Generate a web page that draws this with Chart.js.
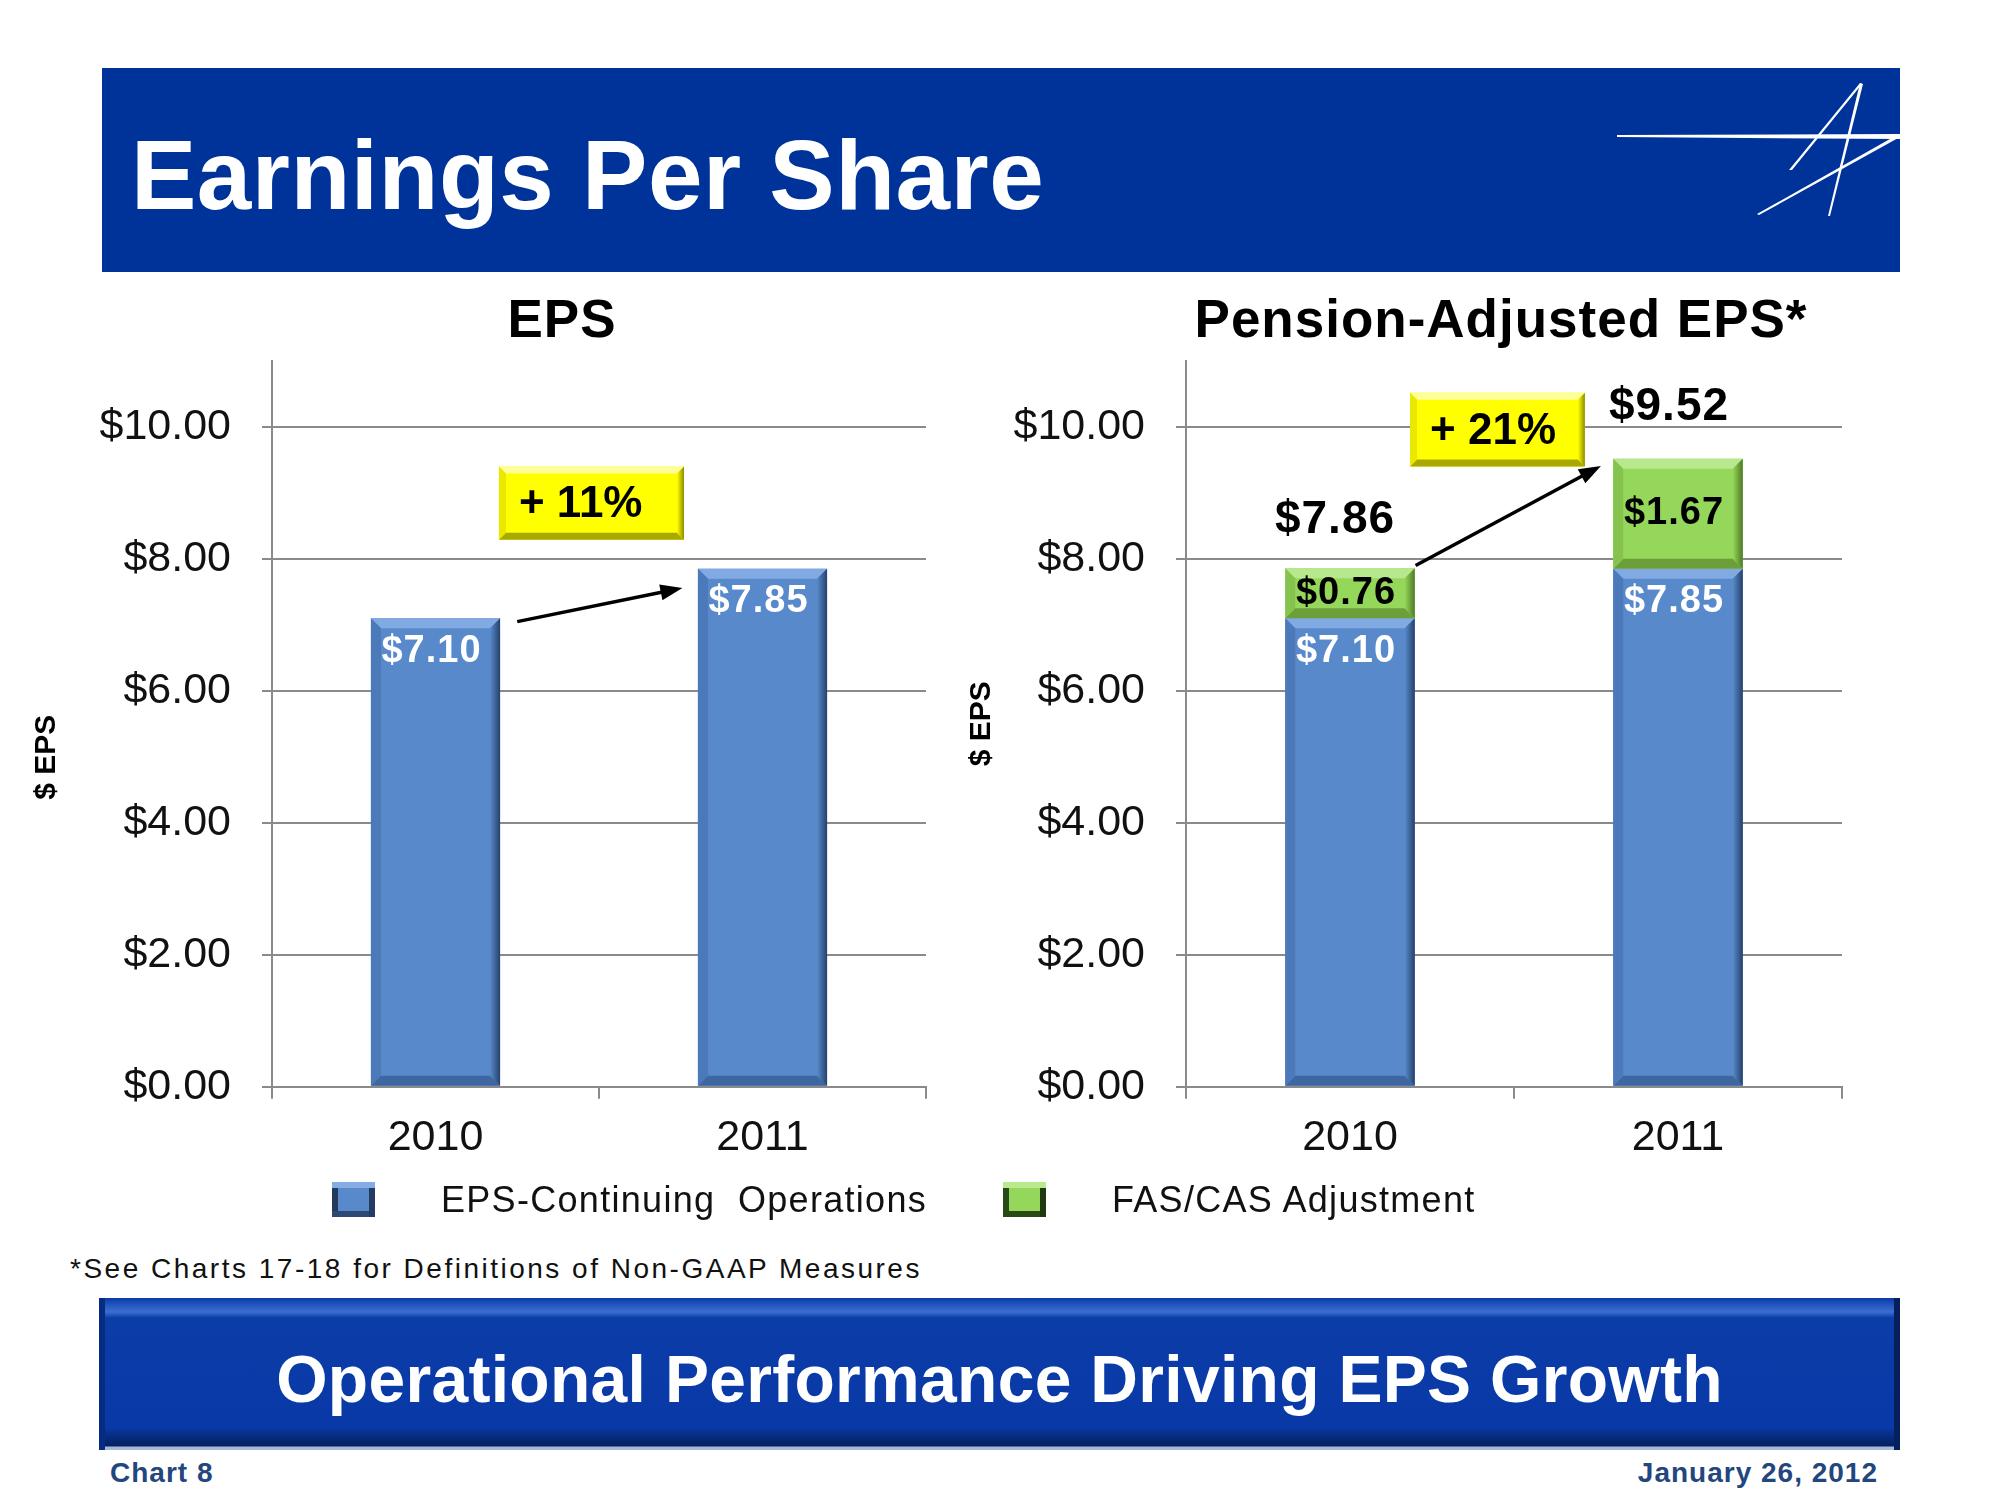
<!DOCTYPE html>
<html>
<head>
<meta charset="utf-8">
<title>Earnings Per Share</title>
<script src="https://cdn.jsdelivr.net/npm/chart.js@4.4.1/dist/chart.umd.min.js"></script>
<style>
    body { margin: 0; width: 2000px; height: 1500px; background: #fff; position: relative; overflow: hidden;
           font-family: "Liberation Sans", Arial, sans-serif; }
    .abs { position: absolute; }
    #header { left: 102px; top: 68px; width: 1798px; height: 204px; background: #003399; }
    #header h1 { position: absolute; left: 29px; top: 58px; margin: 0; color: #fff; font-size: 98px; line-height: 98px;
                 font-weight: bold; letter-spacing: 0.5px; white-space: nowrap; }
    #logo { position: absolute; left: 0; top: 0; }
    .legend-box { width: 43px; height: 35px; box-sizing: border-box; }
    #legBlue { left: 332px; top: 1182px; background: #588acb;
               box-shadow: inset 0 6px 0 #85ade2, inset -6px 0 0 #243c62, inset 0 -6px 0 #2d4a75, inset 6px 0 0 #23395c; }
    #legGreen { left: 1003px; top: 1182px; background: #95d75a;
                box-shadow: inset 0 6px 0 #b9e98f, inset -6px 0 0 #203a10, inset 0 -6px 0 #2a4a14, inset 6px 0 0 #2a4a14; }
    .legend-text { font-size: 36px; letter-spacing: 1.3px; color: #111; white-space: pre; line-height: 36px; }
    #footnote { left: 70px; top: 1253px; font-size: 28px; letter-spacing: 2.5px; color: #111; line-height: 32px; white-space: nowrap; }
    #footer { left: 99px; top: 1298px; width: 1801px; height: 152px; box-sizing: border-box;
              background: linear-gradient(#0a3aa8 0px, #2f62c8 10px, #3a6ed0 14px, #0b3ca8 20px, #0839a6 130px, #062c82 138px, #05215f 148px, #a7b8d8 149px, #a7b8d8 152px);
              box-shadow: inset 6px 0 0 #062c82, inset -6px 0 0 #04205c; }
    #footer div { position: absolute; left: 0; right: 0; top: 46px; text-align: center; color: #fff; font-size: 66px;
                  font-weight: bold; letter-spacing: 0.3px; line-height: 70px; white-space: nowrap; }
    .foot-small { top: 1456px; font-size: 28px; font-weight: bold; color: #24467e; letter-spacing: 1px; line-height: 34px; }
</style>
</head>
<body>
<div id="header" class="abs">
    <h1>Earnings Per Share</h1>
    <svg id="logo" width="1798" height="204" viewBox="102 68 1798 204">
        <polygon points="1617,135 1900,134 1900,139 1617,137" fill="#fff"/>
        <polygon points="1860,83 1862,84 1792,170 1789,170" fill="#fff"/>
        <polygon points="1860,83 1863,84 1830,216 1828,216" fill="#fff"/>
        <polygon points="1897,135 1900,137 1759,215 1757,214" fill="#fff"/>
    </svg>
</div>

<div class="abs" style="left:0;top:280px;width:960px;height:900px;"><canvas id="epsChart"></canvas></div>
<div class="abs" style="left:960px;top:280px;width:1000px;height:900px;"><canvas id="pensionChart"></canvas></div>

<div id="legBlue" class="abs legend-box"></div>
<div class="abs legend-text" style="left:441px;top:1182px;">EPS-Continuing  Operations</div>
<div id="legGreen" class="abs legend-box"></div>
<div class="abs legend-text" style="left:1112px;top:1182px;">FAS/CAS Adjustment</div>

<div id="footnote" class="abs">*See Charts 17-18 for Definitions of Non-GAAP Measures</div>

<div id="footer" class="abs"><div>Operational Performance Driving EPS Growth</div></div>
<div class="abs foot-small" style="left:110px;">Chart 8</div>
<div class="abs foot-small" style="right:122px;">January 26, 2012</div>

<script>
// Chart data
const years = ['2010', '2011'];
const epsContinuing = [7.10, 7.85];
const fasCasAdjustment = [0.76, 1.67];
const yTickValues = [0, 2, 4, 6, 8, 10];
const growthLabels = ['+ 11%', '+ 21%'];

const FONT = '"Liberation Sans", Arial, sans-serif';

const BLUE = { main: '#588acb', top: '#82aae2', bottom: '#3e67a2', left: '#4b79b9', right: '#26416b' };
const GREEN = { main: '#95d75a', top: '#b8e88e', bottom: '#6c9f3a', left: '#86c34e', right: '#4d7a24' };
const YELLOW = { main: '#ffff00', top: '#ffff99', bottom: '#a8a800', left: '#e8e800', right: '#8c8c00' };

function money(v) {
    return '$' + v.toFixed(2);
}

function poly(ctx, pts, color) {
    ctx.beginPath();
    ctx.moveTo(pts[0][0], pts[0][1]);
    for (let i = 1; i < pts.length; i++) ctx.lineTo(pts[i][0], pts[i][1]);
    ctx.closePath();
    ctx.fillStyle = color;
    ctx.fill();
}

// draws bevelled edges on a rectangle, like the old office 3d bars
function bevel(ctx, l, t, r, b, c, s) {
    poly(ctx, [[l, t], [r, t], [r - s, t + s], [l + s, t + s]], c.top);
    poly(ctx, [[l, b], [r, b], [r - s, b - s], [l + s, b - s]], c.bottom);
    poly(ctx, [[l, t], [l + s, t + s], [l + s, b - s], [l, b]], c.left);
    const g = ctx.createLinearGradient(r - s, 0, r, 0);
    g.addColorStop(0, c.main);
    g.addColorStop(1, c.right);
    poly(ctx, [[r, t], [r - s, t + s], [r - s, b - s], [r, b]], g);
}

const bevelPlugin = {
    id: 'bevelBars',
    afterDatasetsDraw(chart) {
        const ctx = chart.ctx;
        chart.getSortedVisibleDatasetMetas().forEach(meta => {
            const colors = chart.data.datasets[meta.index].bevel;
            meta.data.forEach(el => {
                const p = el.getProps(['x', 'y', 'base', 'width'], true);
                const l = p.x - p.width / 2, r = p.x + p.width / 2;
                const t = Math.min(p.y, p.base), b = Math.max(p.y, p.base);
                ctx.save();
                bevel(ctx, l, t, r, b, colors, 10);
                ctx.restore();
            });
        });
    }
};

const labelPlugin = {
    id: 'barLabels',
    afterDatasetsDraw(chart, args, opts) {
        const ctx = chart.ctx;
        ctx.save();
        ctx.textAlign = 'center';
        ctx.textBaseline = 'middle';
        ctx.letterSpacing = '1px';
        chart.getSortedVisibleDatasetMetas().forEach(meta => {
            const ds = chart.data.datasets[meta.index];
            meta.data.forEach((el, i) => {
                const p = el.getProps(['x', 'y', 'base'], true);
                const y = ds.labelMode === 'center' ? (p.y + p.base) / 2 : p.y + 33;
                ctx.font = 'bold 38px ' + FONT;
                ctx.fillStyle = ds.labelColor;
                ctx.fillText(money(ds.data[i]), p.x - 4, y);
            });
        });
        // totals on top of the stack
        if (opts.totals) {
            const metas = chart.getSortedVisibleDatasetMetas();
            const last = metas[metas.length - 1];
            last.data.forEach((el, i) => {
                let total = 0;
                chart.data.datasets.forEach(ds => { total += ds.data[i]; });
                ctx.font = 'bold 46px ' + FONT;
                ctx.fillStyle = '#000';
                ctx.fillText(money(total), el.x - 15 + i * 6, el.y - 48 + i * -3);
            });
        }
        ctx.restore();
    }
};

// growth callout box + arrow, placed in data units
const calloutPlugin = {
    id: 'callout',
    afterDraw(chart, args, opts) {
        const ctx = chart.ctx;
        const xs = chart.scales.x, ys = chart.scales.y;
        const px = v => xs.getPixelForValue(v);
        const py = v => ys.getPixelForValue(v);

        const l = px(opts.box[0]), r = px(opts.box[1]);
        const t = py(opts.box[2]), b = py(opts.box[3]);
        ctx.save();
        ctx.fillStyle = YELLOW.main;
        ctx.fillRect(l, t, r - l, b - t);
        bevel(ctx, l, t, r, b, YELLOW, 7);
        ctx.font = 'bold 44px ' + FONT;
        ctx.fillStyle = '#000';
        ctx.textAlign = 'left';
        ctx.textBaseline = 'middle';
        ctx.fillText(opts.text, l + 20, (t + b) / 2 + 2);

        const x0 = px(opts.arrow[0]), y0 = py(opts.arrow[1]);
        const x1 = px(opts.arrow[2]), y1 = py(opts.arrow[3]);
        const ang = Math.atan2(y1 - y0, x1 - x0);
        const head = 22;
        ctx.strokeStyle = '#000';
        ctx.lineWidth = 3.5;
        ctx.beginPath();
        ctx.moveTo(x0, y0);
        ctx.lineTo(x1 - head * 0.8 * Math.cos(ang), y1 - head * 0.8 * Math.sin(ang));
        ctx.stroke();
        ctx.beginPath();
        ctx.moveTo(x1, y1);
        ctx.lineTo(x1 - head * Math.cos(ang) + 8 * Math.sin(ang), y1 - head * Math.sin(ang) - 8 * Math.cos(ang));
        ctx.lineTo(x1 - head * Math.cos(ang) - 8 * Math.sin(ang), y1 - head * Math.sin(ang) + 8 * Math.cos(ang));
        ctx.closePath();
        ctx.fillStyle = '#000';
        ctx.fill();
        ctx.restore();
    }
};

const panelTitlePlugin = {
    id: 'panelTitle',
    afterDraw(chart, args, opts) {
        const ctx = chart.ctx;
        const area = chart.chartArea;
        ctx.save();
        ctx.font = 'bold 53px ' + FONT;
        ctx.letterSpacing = '1px';
        ctx.fillStyle = '#000';
        ctx.textAlign = 'center';
        ctx.textBaseline = 'middle';
        ctx.fillText(opts.text, (area.left + area.right) / 2 + opts.shift, opts.y);
        ctx.restore();
    }
};

function buildOptions(cfg) {
    return {
        responsive: true,
        maintainAspectRatio: false,
        animation: false,
        layout: { padding: cfg.padding },
        plugins: {
            legend: { display: false },
            title: { display: false },
            tooltip: { enabled: false },
            panelTitle: { text: cfg.title, shift: cfg.titleShift, y: 42 },
            barLabels: { totals: cfg.totals },
            callout: cfg.callout
        },
        scales: {
            x: {
                stacked: cfg.stacked,
                offset: true,
                afterFit: s => { s.height = 93.3; },
                grid: { offset: true, drawOnChartArea: false, color: '#8a8a8a', lineWidth: 2, tickLength: 12 },
                border: { color: '#8a8a8a', width: 2 },
                ticks: { color: '#111', padding: 14, font: { family: FONT, size: 43 } }
            },
            y: {
                stacked: cfg.stacked,
                min: 0,
                max: 11,
                afterFit: s => { s.width = cfg.yWidth; },
                afterBuildTicks: s => { s.ticks = yTickValues.map(v => ({ value: v })); },
                grid: { color: '#8a8a8a', lineWidth: 2, tickLength: 10 },
                border: { color: '#8a8a8a', width: 2 },
                ticks: {
                    color: '#111',
                    padding: 31,
                    font: { family: FONT, size: 43 },
                    callback: v => money(v)
                },
                title: {
                    display: true,
                    text: cfg.yTitle,
                    color: '#000',
                    padding: { top: 4, bottom: 4 },
                    font: { family: FONT, size: 30, weight: 'bold' }
                }
            }
        }
    };
}

const plugins = [bevelPlugin, labelPlugin, calloutPlugin, panelTitlePlugin];

new Chart(document.getElementById('epsChart'), {
    type: 'bar',
    data: {
        labels: years,
        datasets: [{
            label: 'EPS-Continuing Operations',
            data: epsContinuing,
            backgroundColor: BLUE.main,
            bevel: BLUE,
            labelColor: '#fff',
            labelMode: 'top',
            borderWidth: 0,
            barPercentage: 0.395,
            categoryPercentage: 1
        }]
    },
    options: buildOptions({
        padding: { left: 25, right: 34, top: 81, bottom: 0 },
        yWidth: 247,
        // trailing spaces push the rotated label a bit lower, as on the slide
        yTitle: '$ EPS        ',
        title: 'EPS',
        titleShift: -37,
        totals: false,
        stacked: false,
        callout: { text: growthLabels[0], box: [0.194, 0.76, 9.40, 8.29], arrow: [0.25, 7.05, 0.755, 7.56] }
    }),
    plugins: plugins
});

new Chart(document.getElementById('pensionChart'), {
    type: 'bar',
    data: {
        labels: years,
        datasets: [{
            label: 'EPS-Continuing Operations',
            data: epsContinuing,
            backgroundColor: BLUE.main,
            bevel: BLUE,
            labelColor: '#fff',
            labelMode: 'top',
            borderWidth: 0,
            barPercentage: 0.395,
            categoryPercentage: 1
        }, {
            label: 'FAS/CAS Adjustment',
            data: fasCasAdjustment,
            backgroundColor: GREEN.main,
            bevel: GREEN,
            labelColor: '#000',
            labelMode: 'center',
            borderWidth: 0,
            barPercentage: 0.395,
            categoryPercentage: 1
        }]
    },
    options: buildOptions({
        padding: { left: 0, right: 118, top: 81, bottom: 0 },
        yWidth: 226,
        yTitle: '$ EPS',
        title: 'Pension-Adjusted EPS*',
        titleShift: -13,
        totals: true,
        stacked: true,
        callout: { text: growthLabels[1], box: [0.183, 0.716, 10.52, 9.40], arrow: [0.2, 7.9, 0.765, 9.41] }
    }),
    plugins: plugins
});
</script>
</body>
</html>
